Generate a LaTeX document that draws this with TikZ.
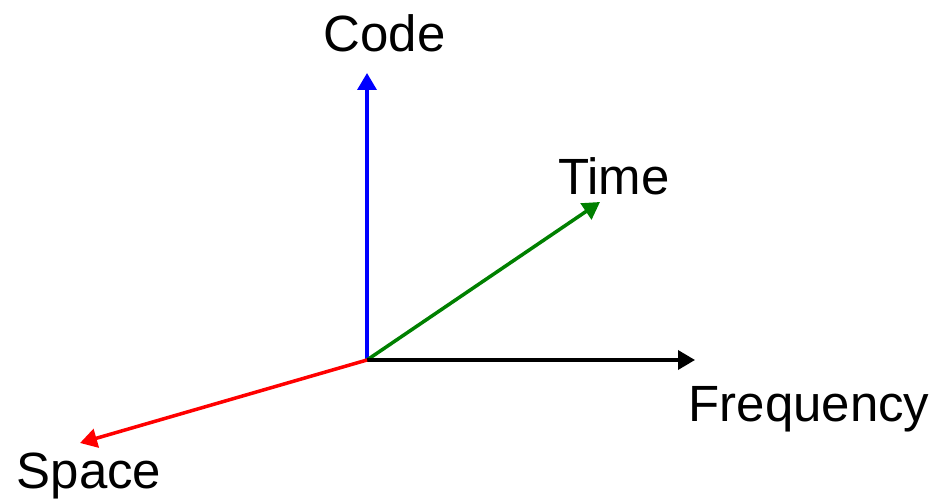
\documentclass[tikz,border=0pt]{standalone}
\usepackage{fontspec}
\setmainfont{Liberation Sans}
\usetikzlibrary{arrows.meta}

\definecolor{axisgreen}{RGB}{0,128,0}

\begin{document}
\begin{tikzpicture}[
		axis/.style={line width=2pt, -{Triangle[length=0.34cm, width=0.38cm]}},
		lbl/.style={anchor=base, inner sep=0pt, font=\fontsize{29}{34}\selectfont}
	]
		\useasboundingbox (0,0) rectangle (18.86,10.02);
		
		% Origin and arrow tips
		\coordinate (O) at (7.34,2.82);
		\coordinate (codetip) at (7.34,8.56);
		\coordinate (timetip) at (12.0,5.98);
		\coordinate (freqtip) at (13.9,2.82);
		\coordinate (spacetip) at (1.6,1.16);
		
		% Axes
		\draw[axis, blue] (O) -- (codetip);
		\draw[axis, axisgreen] (O) -- (timetip);
		\draw[axis, black] (O) -- (freqtip);
		\draw[axis, red] (O) -- (spacetip);
		
		% Labels
		\node[lbl] (code) at (7.69,8.98) {Code};
		\node[lbl] (time) at (12.28,6.12) {Time};
		\node[lbl] (freq) at (16.18,1.58) {Frequency};
		\node[lbl] (space) at (1.78,0.26) {Space};
	\end{tikzpicture}
\end{document}
